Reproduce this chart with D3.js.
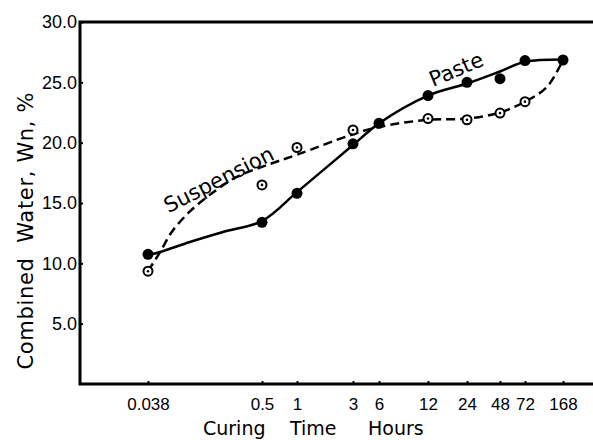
<!DOCTYPE html>
<html>
<head>
<meta charset="utf-8">
<script src="https://cdn.jsdelivr.net/npm/d3@7"></script>
<style>
  body { margin: 0; background: #fff; }
  svg { display: block; font-family: "DejaVu Sans", sans-serif; }
</style>
</head>
<body>
<svg id="chart" width="593" height="440"></svg>
<script>
//Curing time ticks (hours) and labels
const hours = [0.038, 0.5, 1, 3, 6, 12, 24, 48, 72, 168];
const hourLabels = ["0.038", "0.5", "1", "3", "6", "12", "24", "48", "72", "168"];
const wnTicks = [5, 10, 15, 20, 25, 30];

//Measured points - paste (filled)
const pasteHours = [0.038, 0.5, 1, 3, 6, 12, 24, 48, 72, 168];
const pasteWn = [10.75, 13.4, 15.8, 19.9, 21.6, 23.9, 25.0, 25.3, 26.8, 26.85];
//Measured points - suspension (open)
const suspHours = [0.038, 0.5, 1, 3, 12, 24, 48, 72];
const suspWn = [9.35, 16.5, 19.6, 21.05, 22.0, 21.9, 22.45, 23.4];

//Hand drawn curves
const pasteCurveHours = [0.038, 0.05, 0.098, 0.207, 0.5, 1, 3, 6, 12, 24, 48, 72, 168];
const pasteCurveWn = [10.7, 10.94, 11.77, 12.6, 13.5, 15.9, 19.8, 21.6, 23.9, 24.9, 25.9, 26.7, 26.9];
const suspCurveHours = [0.038, 0.05, 0.065, 0.098, 0.161, 0.272, 0.5, 1, 3, 6, 12, 24, 48, 72, 117, 168];
const suspCurveWn = [9.36, 10.94, 12.6, 14.3, 15.8, 17.1, 18.0, 19.0, 20.7, 21.3, 21.9, 22.0, 22.5, 23.4, 24.6, 26.85];

//layout
const width = 593, height = 440;
const margin = {left: 80, top: 22, bottom: 384};
//the time axis in the figure is not evenly logarithmic, so place each tick
const tickX = [148, 262, 297, 353, 379, 428, 467, 500, 525, 563];

const svg = d3.select("#chart");

const xScale = d3.scaleLog().domain(hours).range(tickX);
const yScale = d3.scaleLinear().domain([0, 30]).range([margin.bottom, margin.top]);

//x axis
const xAxis = svg.append("g")
    .attr("transform", "translate(0," + margin.bottom + ")")
    .call(d3.axisBottom(xScale)
        .tickValues(hours)
        .tickFormat((d, i) => hourLabels[i])
        .tickSize(-3)
        .tickPadding(14));
xAxis.select(".domain").remove();
xAxis.selectAll("line").attr("stroke-width", 2);
xAxis.selectAll("text").attr("font-size", 17).attr("fill", "#000");

//y axis
const yAxis = svg.append("g")
    .attr("transform", "translate(" + margin.left + ",0)")
    .call(d3.axisLeft(yScale)
        .tickValues(wnTicks)
        .tickFormat(d3.format(".1f"))
        .tickSize(-3)
        .tickPadding(3));
yAxis.select(".domain").remove();
yAxis.selectAll("line").attr("stroke-width", 2);
yAxis.selectAll("text").attr("font-size", 18).attr("fill", "#000");

//frame lines (left, top, bottom)
svg.append("path")
    .attr("d", "M" + width + "," + yScale(30) + "H" + margin.left + "V" + yScale(0) + "H" + width)
    .attr("fill", "none")
    .attr("stroke", "#000")
    .attr("stroke-width", 3);

//curves
const line = d3.line()
    .x(d => xScale(d[0]))
    .y(d => yScale(d[1]))
    .curve(d3.curveCatmullRom.alpha(0.5));

svg.append("path")
    .datum(pasteCurveHours.map((h, i) => [h, pasteCurveWn[i]]))
    .attr("d", line)
    .attr("fill", "none")
    .attr("stroke", "#000")
    .attr("stroke-width", 2.5);

svg.append("path")
    .datum(suspCurveHours.map((h, i) => [h, suspCurveWn[i]]))
    .attr("d", line)
    .attr("fill", "none")
    .attr("stroke", "#000")
    .attr("stroke-width", 2.5)
    .attr("stroke-dasharray", "9,5");

//paste points
svg.selectAll(".paste")
    .data(pasteHours.map((h, i) => [h, pasteWn[i]]))
    .join("circle")
    .attr("class", "paste")
    .attr("cx", d => xScale(d[0]))
    .attr("cy", d => yScale(d[1]))
    .attr("r", 5.5)
    .attr("fill", "#000");

//suspension points
const susp = svg.selectAll(".susp")
    .data(suspHours.map((h, i) => [h, suspWn[i]]))
    .join("g")
    .attr("class", "susp")
    .attr("transform", d => "translate(" + xScale(d[0]) + "," + yScale(d[1]) + ")");
susp.append("circle")
    .attr("r", 4.5)
    .attr("fill", "#fff")
    .attr("stroke", "#000")
    .attr("stroke-width", 2);
susp.append("circle")
    .attr("r", 1.3)
    .attr("fill", "#000");

//curve labels
svg.append("text")
    .attr("transform", "translate(222,186) rotate(-27)")
    .attr("text-anchor", "middle")
    .attr("font-size", 21)
    .text("Suspension");

svg.append("text")
    .attr("transform", "translate(459,76) rotate(-23)")
    .attr("text-anchor", "middle")
    .attr("font-size", 21)
    .text("Paste");

//axis titles
svg.append("text")
    .attr("transform", "translate(33,231) rotate(-90)")
    .attr("text-anchor", "middle")
    .attr("font-size", 21)
    .attr("xml:space", "preserve")
    .attr("textLength", 277)
    .text("Combined  Water, Wn, %");

const xTitle = [["Curing", 203], ["Time", 290], ["Hours", 368]];
svg.selectAll(".xtitle")
    .data(xTitle)
    .join("text")
    .attr("class", "xtitle")
    .attr("x", d => d[1])
    .attr("y", 435)
    .attr("font-size", 19)
    .text(d => d[0]);
</script>
</body>
</html>
